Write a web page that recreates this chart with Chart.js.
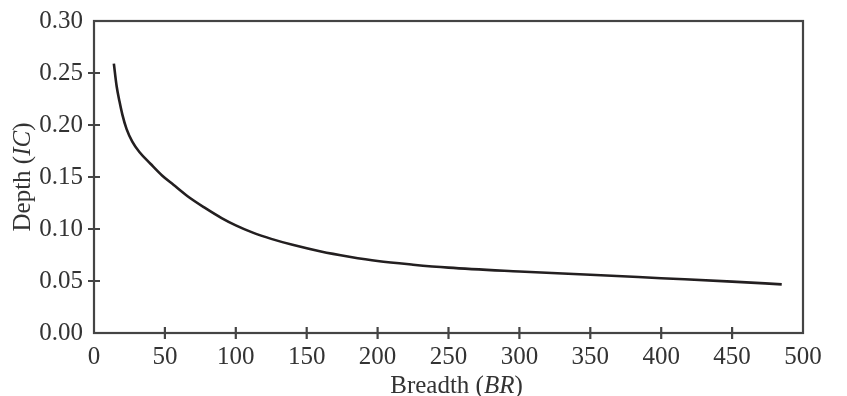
<!DOCTYPE html>
<html lang="en"><head>
<meta charset="UTF-8">
<title>Depth vs Breadth</title>
<script src="https://cdn.jsdelivr.net/npm/chart.js"></script>
<style>
  body { margin: 0; background: #fff; }
  .wrap { width: 847px; height: 396px; }
</style>
</head>
<body>
<div class="wrap"><canvas id="curve" width="847" height="396"></canvas></div>
<script>
  // values
  const breadth = [14, 16, 18, 20, 23, 27, 32, 40, 48, 56, 66, 78, 90, 100, 112, 125, 140, 160, 180, 200, 225, 250, 300, 350, 400, 450, 485];
  const depth = [0.259, 0.237, 0.2225, 0.210, 0.196, 0.184, 0.174, 0.1625, 0.1515, 0.1425, 0.1315, 0.1205, 0.1105, 0.1035, 0.0965, 0.0905, 0.0848, 0.0784, 0.0734, 0.0692, 0.0657, 0.0629, 0.0592, 0.0560, 0.0527, 0.0494, 0.0468];
  const xTicks = [0, 50, 100, 150, 200, 250, 300, 350, 400, 450, 500];
  const yTicks = [0, 0.05, 0.10, 0.15, 0.20, 0.25, 0.30];

  const axisColor = '#444444';
  const serif = "'Liberation Serif', 'DejaVu Serif', serif";
  const fontSize = 25;

  // draws "plain (italic)" text pieces one after another, centred on (cx, cy)
  function drawMixed(ctx, parts, cx, cy) {
    let total = 0;
    parts.forEach(p => {
      ctx.font = (p.italic ? 'italic ' : '') + fontSize + 'px ' + serif;
      p.w = ctx.measureText(p.text).width;
      total += p.w;
    });
    let px = cx - total / 2;
    parts.forEach(p => {
      ctx.font = (p.italic ? 'italic ' : '') + fontSize + 'px ' + serif;
      ctx.fillText(p.text, px, cy);
      px += p.w;
    });
  }

  const frame = {
    id: 'frame',
    afterDatasetsDraw(chart) {
      const { ctx, chartArea: a, scales: { x, y } } = chart;
      ctx.save();
      ctx.strokeStyle = axisColor;
      ctx.lineWidth = 2.2;
      ctx.strokeRect(a.left, a.top, a.right - a.left, a.bottom - a.top);

      // small ticks crossing the axis lines
      ctx.beginPath();
      xTicks.slice(1, -1).forEach(v => {
        const px = x.getPixelForValue(v);
        ctx.moveTo(px, a.bottom - 6);
        ctx.lineTo(px, a.bottom + 6);
      });
      yTicks.slice(1, -1).forEach(v => {
        const py = y.getPixelForValue(v);
        ctx.moveTo(a.left - 6, py);
        ctx.lineTo(a.left + 6, py);
      });
      ctx.stroke();

      // axis titles
      ctx.fillStyle = '#333333';
      ctx.textBaseline = 'alphabetic';
      drawMixed(ctx, [{ text: 'Breadth (' }, { text: 'BR', italic: true }, { text: ')' }], (a.left + a.right) / 2 + 8, 393);
      ctx.save();
      ctx.translate(30, (a.top + a.bottom) / 2);
      ctx.rotate(-Math.PI / 2);
      drawMixed(ctx, [{ text: 'Depth (' }, { text: 'IC', italic: true }, { text: ')' }], 0, 0);
      ctx.restore();
      ctx.restore();
    }
  };

  new Chart(document.getElementById('curve'), {
    type: 'line',
    data: {
      datasets: [{
        data: breadth.map((b, i) => ({ x: b, y: depth[i] })),
        borderColor: '#231f20',
        borderWidth: 2.6,
        pointRadius: 0,
        cubicInterpolationMode: 'monotone',
        fill: false
      }]
    },
    options: {
      responsive: false,
      animation: false,
      devicePixelRatio: 1,
      layout: { padding: { top: 21, right: 44, left: 0, bottom: 0 } },
      plugins: { legend: { display: false }, tooltip: { enabled: false } },
      scales: {
        x: {
          type: 'linear',
          min: 0,
          max: 500,
          afterBuildTicks: s => { s.ticks = xTicks.map(v => ({ value: v })); },
          afterFit: s => { s.height = 63; },
          grid: { display: false },
          border: { display: false },
          ticks: {
            color: '#333333',
            padding: 1,
            maxRotation: 0,
            autoSkip: false,
            font: { family: serif, size: fontSize },
            callback: v => String(v)
          }
        },
        y: {
          min: 0,
          max: 0.30,
          afterBuildTicks: s => { s.ticks = yTicks.map(v => ({ value: v })); },
          afterFit: s => { s.width = 94; },
          grid: { display: false },
          border: { display: false },
          ticks: {
            color: '#333333',
            padding: 3,
            autoSkip: false,
            font: { family: serif, size: fontSize },
            callback: v => Number(v).toFixed(2)
          }
        }
      }
    },
    plugins: [frame]
  });
</script>
</body></html>
